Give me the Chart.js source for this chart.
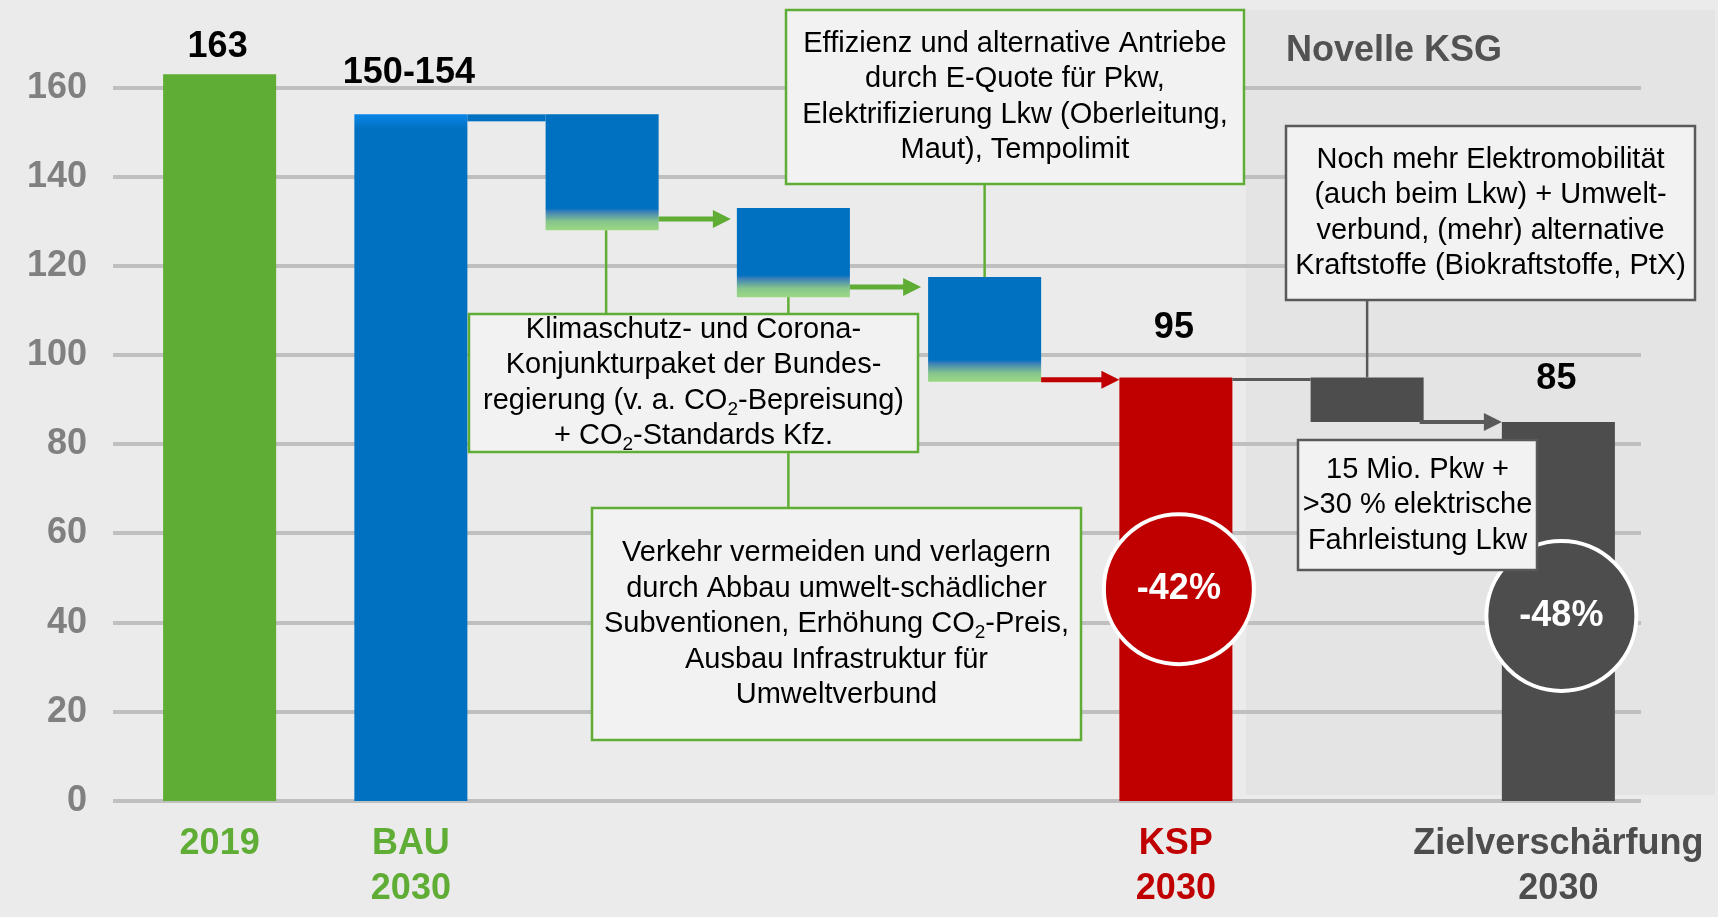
<!DOCTYPE html>
<html>
<head>
<meta charset="utf-8">
<script src="https://cdn.jsdelivr.net/npm/chart.js@4.4.1/dist/chart.umd.min.js"></script>
<style>
  html, body { margin: 0; padding: 0; background: #ebebeb; }
</style>
</head>
<body>
<canvas id="chart" width="1718" height="917"></canvas>
<script>
// Verkehrsemissionen (Mio. t CO2-Äq.) – Wasserfall 2019 bis 2030
const categories = [['2019'], ['BAU', '2030'], [''], [''], [''], ['KSP', '2030'], [''], ['Zielverschärfung', '2030']];
const barLow  = [0,   0,   128, 113, 94,    0,  85, 0];
const barHigh = [163, 154, 154, 133, 117.5, 95, 95, 85];
const valueLabels = ['163', '150-154', '', '', '', '95', '', '85'];
const yTicks = [0, 20, 40, 60, 80, 100, 120, 140, 160];
const yMax = 170;

const GREEN = '#5fad35', BLUE = '#0070c0', RED = '#c00000', DARK = '#4d4d4d';
const labelColors = [GREEN, GREEN, GREEN, GREEN, GREEN, RED, DARK, DARK];

// annotation boxes (text only; layout in pixels)
const noteEffizienz = ['Effizienz und alternative Antriebe', 'durch E-Quote für Pkw,', 'Elektrifizierung Lkw (Oberleitung,', 'Maut), Tempolimit'];
const noteKlima = ['Klimaschutz- und Corona-', 'Konjunkturpaket der Bundes-', 'regierung (v. a. CO₂-Bepreisung)', '+ CO₂-Standards Kfz.'];
const noteVerkehr = ['Verkehr vermeiden und verlagern', 'durch Abbau umwelt-schädlicher', 'Subventionen, Erhöhung CO₂-Preis,', 'Ausbau Infrastruktur für', 'Umweltverbund'];
const noteMehr = ['Noch mehr Elektromobilität', '(auch beim Lkw) + Umwelt-', 'verbund, (mehr) alternative', 'Kraftstoffe (Biokraftstoffe, PtX)'];
const notePkw = ['15 Mio. Pkw +', '>30 % elektrische', 'Fahrleistung Lkw'];

const FONT = '"Liberation Sans", Arial, sans-serif';
Chart.defaults.font.family = FONT;

function barColor(ctx) {
  const i = ctx.dataIndex;
  const chart = ctx.chart;
  const y = chart.scales.y;
  if (i === 0) return GREEN;
  if (i === 5) return RED;
  if (i >= 6) return DARK;
  if (!chart.chartArea || !y) return BLUE;
  const c = chart.ctx;
  if (i === 1) {
    const yt = y.getPixelForValue(barHigh[i]);
    const g = c.createLinearGradient(0, yt, 0, yt + 15);
    g.addColorStop(0, '#0a86e8');
    g.addColorStop(1, BLUE);
    return g;
  }
  const yb = y.getPixelForValue(barLow[i]);
  const g = c.createLinearGradient(0, yb - 22, 0, yb);
  g.addColorStop(0, BLUE);
  g.addColorStop(0.15, '#3b80b8');
  g.addColorStop(0.6, '#86c58c');
  g.addColorStop(1, '#9bd982');
  return g;
}

function richLine(c, text, cx, cy, size) {
  // draws a centred line, '₂' rendered as a real subscript 2
  const parts = text.split('₂');
  const sub = Math.round(size * 0.65);
  let total = 0;
  parts.forEach((p, k) => {
    c.font = size + 'px ' + FONT;
    total += c.measureText(p).width;
    if (k < parts.length - 1) { c.font = sub + 'px ' + FONT; total += c.measureText('2').width; }
  });
  let x = cx - total / 2;
  c.textAlign = 'left';
  c.textBaseline = 'middle';
  parts.forEach((p, k) => {
    c.font = size + 'px ' + FONT;
    c.fillText(p, x, cy);
    x += c.measureText(p).width;
    if (k < parts.length - 1) {
      c.font = sub + 'px ' + FONT;
      c.fillText('2', x, cy + size * 0.3);
      x += c.measureText('2').width;
    }
  });
}

function noteBox(c, x, y, w, h, border, lines) {
  c.fillStyle = '#f2f2f2';
  c.fillRect(x, y, w, h);
  c.strokeStyle = border;
  c.lineWidth = 2.5;
  c.strokeRect(x, y, w, h);
  c.fillStyle = '#000';
  const lh = 35.5;
  const y0 = y + h / 2 - (lines.length - 1) * lh / 2;
  lines.forEach((t, k) => richLine(c, t, x + w / 2, y0 + k * lh, 29));
}

function arrow(c, x1, x2, y, color, w, head) {
  c.strokeStyle = color;
  c.fillStyle = color;
  c.lineWidth = w;
  c.beginPath();
  c.moveTo(x1, y);
  c.lineTo(head ? x2 - 14 : x2, y);
  c.stroke();
  if (head) {
    c.beginPath();
    c.moveTo(x2, y);
    c.lineTo(x2 - 18, y - 9);
    c.lineTo(x2 - 18, y + 9);
    c.closePath();
    c.fill();
  }
}

function vline(c, x, y1, y2, color, w) {
  c.strokeStyle = color;
  c.lineWidth = w;
  c.beginPath();
  c.moveTo(x, y1);
  c.lineTo(x, y2);
  c.stroke();
}

const decor = {
  id: 'decor',
  beforeDraw(chart) {
    const c = chart.ctx;
    c.save();
    c.fillStyle = '#ebebeb';
    c.fillRect(0, 0, chart.width, chart.height);
    c.fillStyle = '#e4e4e4';
    c.fillRect(1246, 10, 469, 785);
    c.fillStyle = '#525252';
    c.font = 'bold 36px ' + FONT;
    c.textAlign = 'left';
    c.textBaseline = 'middle';
    c.fillText('Novelle KSG', 1286, 51);
    c.restore();
  },
  beforeDatasetsDraw(chart) {
    const c = chart.ctx, y = chart.scales.y, a = chart.chartArea;
    c.save();
    c.strokeStyle = '#bfbfbf';
    c.lineWidth = 4;
    yTicks.forEach(v => {
      const py = Math.round(y.getPixelForValue(v));
      c.beginPath();
      c.moveTo(a.left - 11, py);
      c.lineTo(a.right - 13, py);
      c.stroke();
    });
    c.restore();
  },
  afterDatasetsDraw(chart) {
    const c = chart.ctx, y = chart.scales.y;
    const bars = chart.getDatasetMeta(0).data.map(b => {
      const p = b.getProps(['x', 'y', 'base', 'width'], true);
      return { x: p.x, l: p.x - p.width / 2, r: p.x + p.width / 2, top: Math.min(p.y, p.base), bot: Math.max(p.y, p.base) };
    });
    c.save();

    // blue strip BAU -> first step
    c.fillStyle = BLUE;
    c.fillRect(bars[1].r, bars[1].top, bars[2].l - bars[1].r, 7);

    // connectors to the boxes
    vline(c, bars[2].x + 4, bars[2].bot, 314, GREEN, 2.5);
    vline(c, bars[3].x - 5, bars[3].bot, 508, GREEN, 2.5);
    vline(c, bars[4].x, 184, bars[4].top, GREEN, 2.5);
    vline(c, bars[6].x, 300, bars[6].top, '#595959', 2.5);

    // arrows between steps
    const mid = (i) => (bars[i].bot + bars[i + 1].top) / 2;
    arrow(c, bars[2].r, bars[3].l - 6, mid(2), GREEN, 5, true);
    arrow(c, bars[3].r, bars[4].l - 7, mid(3), GREEN, 5, true);
    arrow(c, bars[4].r, bars[5].l, mid(4), RED, 5, true);
    arrow(c, bars[5].r, bars[6].l, bars[5].top + 2, '#595959', 3, false);
    arrow(c, bars[6].r - 4, bars[7].l, mid(6), '#595959', 4, true);

    // reduction circles
    [[5, 47.5, '-42%', RED], [7, 41.5, '-48%', DARK]].forEach(([i, v, t, col]) => {
      const cx = bars[i].x + 3, cy = y.getPixelForValue(v);
      c.beginPath();
      c.arc(cx, cy, 75, 0, Math.PI * 2);
      c.fillStyle = col;
      c.fill();
      c.lineWidth = 4;
      c.strokeStyle = '#ffffff';
      c.stroke();
      c.fillStyle = '#ffffff';
      c.font = 'bold 36px ' + FONT;
      c.textAlign = 'center';
      c.textBaseline = 'middle';
      c.fillText(t, cx, cy);
    });

    // text boxes
    noteBox(c, 786, 10, 458, 174, GREEN, noteEffizienz);
    noteBox(c, 469, 314, 449, 138, GREEN, noteKlima);
    noteBox(c, 592, 508, 489, 232, GREEN, noteVerkehr);
    noteBox(c, 1286, 126, 409, 174, '#595959', noteMehr);
    noteBox(c, 1298, 440, 239, 130, '#595959', notePkw);

    // value labels above the bars
    const lift = [27, 41, 0, 0, 0, 49, 0, 43];
    c.fillStyle = '#000';
    c.font = 'bold 36px ' + FONT;
    c.textAlign = 'center';
    c.textBaseline = 'middle';
    valueLabels.forEach((t, i) => {
      if (t) c.fillText(t, bars[i].x - 2, bars[i].top - lift[i]);
    });
    c.restore();
  }
};

new Chart(document.getElementById('chart'), {
  type: 'bar',
  data: {
    labels: categories,
    datasets: [{
      data: barLow.map((lo, i) => [lo, barHigh[i]]),
      backgroundColor: barColor,
      borderWidth: 0,
      categoryPercentage: 1,
      barPercentage: 0.591
    }]
  },
  options: {
    responsive: false,
    animation: false,
    layout: { padding: { top: 43, right: 64, bottom: 0, left: 2 } },
    plugins: { legend: { display: false }, tooltip: { enabled: false } },
    scales: {
      x: {
        grid: { display: false, drawTicks: false },
        border: { display: false },
        ticks: {
          autoSkip: false, maxRotation: 0, minRotation: 0, padding: 21,
          font: { size: 36, weight: 'bold', lineHeight: 1.25 },
          color: (c) => labelColors[c.index]
        },
        afterFit(s) { s.height = 116; s.paddingLeft = 0; s.paddingRight = 0; }
      },
      y: {
        min: 0, max: yMax,
        grid: { display: false, drawTicks: false },
        border: { display: false },
        ticks: { stepSize: 20, padding: 37, color: '#808080', font: { size: 36, weight: 'bold' } },
        afterBuildTicks(s) { s.ticks = s.ticks.filter(t => yTicks.includes(t.value)); },
        afterFit(s) { s.width = 122; s.paddingTop = 0; s.paddingBottom = 0; }
      }
    }
  },
  plugins: [decor]
});
</script>
</body>
</html>
